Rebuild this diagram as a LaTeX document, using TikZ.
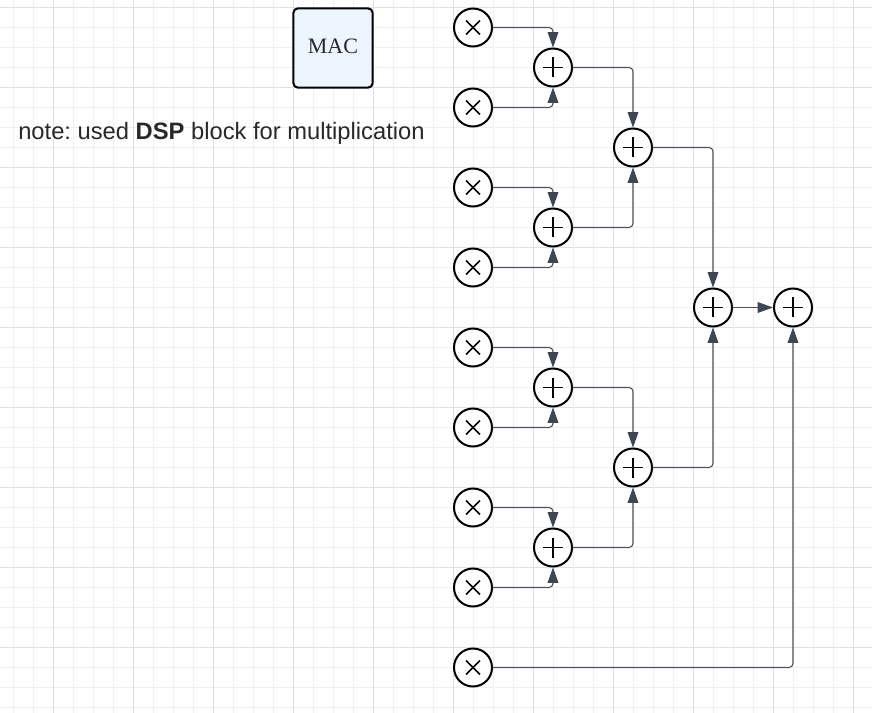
\documentclass[tikz,border=0pt]{standalone}
\usepackage{fontspec}
\setmainfont{Liberation Sans}
\newfontfamily\macfont{Liberation Serif}
\usetikzlibrary{calc,arrows.meta}
\definecolor{mygridminor}{RGB}{240,240,240}
\definecolor{mygridmajor}{RGB}{224,224,224}
\definecolor{myblue}{RGB}{237,245,255}
\definecolor{myline}{RGB}{75,82,92}
\definecolor{mytip}{RGB}{61,70,82}
\definecolor{mytext}{RGB}{40,40,40}

\begin{document}
\begin{tikzpicture}[
  x=0.75pt,
  y=-0.75pt,
  mygate/.style={
    circle,
    draw=black,
    fill=white,
    line width=1.5pt,
    inner sep=0pt,
    minimum size=28.5pt
    },
  mymult/.style={
    mygate,
    path picture={
      \draw[line width=1.2pt] ($(path picture bounding box.center)+(-5.2pt,-5.2pt)$) -- ++(10.4pt,10.4pt);
      \draw[line width=1.2pt] ($(path picture bounding box.center)+(-5.2pt,5.2pt)$) -- ++(10.4pt,-10.4pt);
      }
    },
  myadd/.style={
    mygate,
    path picture={
      \draw[line width=1.2pt] ($(path picture bounding box.center)+(-7.5pt,0pt)$) -- ++(15pt,0pt);
      \draw[line width=1.2pt] ($(path picture bounding box.center)+(0pt,-7.5pt)$) -- ++(0pt,15pt);
      }
    },
  myconn/.style={
    draw=myline,
    line width=0.8pt,
    rounded corners=3pt,
    -{Triangle[length=11.5pt,width=8pt,color=mytip]}
    }
]

% background grid
\useasboundingbox (0,0) rectangle (872,713);
\fill[white] (0,0) rectangle (872,713);
\foreach \x in {13.5,33.5,...,873}
  \draw[mygridminor,line width=0.7pt] (\x,0) -- (\x,713);
\foreach \y in {7.5,27.5,...,713}
  \draw[mygridminor,line width=0.7pt] (0,\y) -- (872,\y);
\foreach \x in {53.5,133.5,...,873}
  \draw[mygridmajor,line width=0.7pt] (\x,0) -- (\x,713);
\foreach \y in {7.5,87.5,...,713}
  \draw[mygridmajor,line width=0.7pt] (0,\y) -- (872,\y);

\node[draw=black, fill=myblue, line width=1.5pt, rounded corners=3.5pt, inner sep=0pt,
  minimum size=59.5pt, text=mytext, font=\macfont\fontsize{16.5pt}{18pt}\selectfont]
  (mac) at (333,48) {\raisebox{2pt}{MAC}};
\node[anchor=west, inner sep=0pt, text=mytext, font=\fontsize{17.8pt}{20pt}\selectfont]
  (note) at (18,133) {\frenchspacing note: used \textbf{DSP} block for multiplication};

\foreach \Valor [count=\Valori from 1] in {27.5,107.5,187.5,267.5,347.5,427.5,507.5,587.5,667.5}
  \node[mymult] (mult\Valori) at (473,\Valor) {};

\foreach \Valor [count=\Valori from 1] in {67.5,227.5,387.5,547.5}
  \node[myadd] (add\Valori) at (553,\Valor) {};
\node[myadd] (addb1) at (633,147.5) {};
\node[myadd] (addb2) at (633,467.5) {};
\node[myadd] (addc) at (713,307.5) {};
\node[myadd] (addd) at (793,307.5) {};

\foreach \From/\To in {mult1/add1,mult2/add1,mult3/add2,mult4/add2,mult5/add3,mult6/add3,mult7/add4,mult8/add4,add1/addb1,add2/addb1,add3/addb2,add4/addb2,addb1/addc,addb2/addc,mult9/addd}
  \draw[myconn] (\From) -| (\To);
\draw[myconn] (addc) -- (addd);

\end{tikzpicture}
\end{document}
